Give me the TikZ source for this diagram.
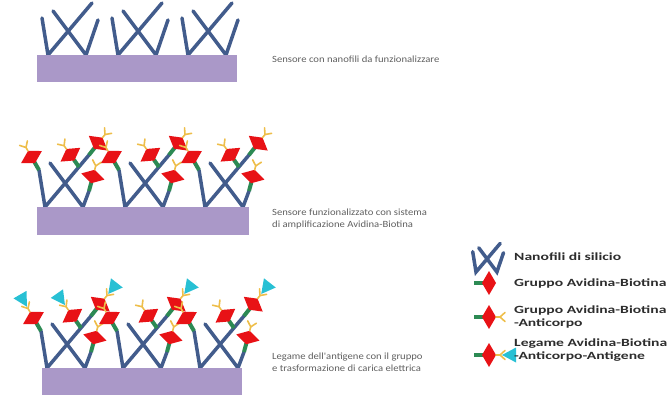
\documentclass[tikz,border=0pt]{standalone}
\usepackage{fontspec}
\newfontfamily\didafont{Carlito}[FakeStretch=1.12]
\newfontfamily\legfont{Carlito}[FakeStretch=1.42]
\definecolor{filoblu}{RGB}{66,92,140}
\definecolor{silicio}{RGB}{170,152,200}
\definecolor{avirosso}{RGB}{232,18,22}
\definecolor{bioverde}{RGB}{44,138,84}
\definecolor{acgiallo}{RGB}{238,190,74}
\definecolor{agciano}{RGB}{40,192,212}
\definecolor{testo}{RGB}{95,95,95}
\definecolor{legtesto}{RGB}{45,45,45}

\begin{document}
\begin{tikzpicture}[x=1pt, y=-1pt,
    filo/.style ={draw=filoblu, line width=3.5pt, line cap=round},
    substrato/.style ={fill=silicio},
    biotina/.style ={draw=bioverde, line width=4pt},
    avidina/.style ={fill=avirosso},
    anticorpo/.style ={draw=acgiallo, line width=1.6pt, line cap=round},
    antigene/.style ={fill=agciano},
    dida/.style ={anchor=west, align=left, inner sep=0pt, text=testo,
      font=\didafont\fontsize{9.5}{12}\selectfont},
    leg/.style ={anchor=west, align=left, inner sep=0pt, text=legtesto,
      font=\legfont\bfseries\fontsize{11}{13}\selectfont},
    pics/nanofili/.style ={code={
      \draw[filo] (-6,-37) -- (0,0) -- (44,-52);
      \draw[filo] (5,-44) -- (38,0) -- (50,-35);
    }},
    pics/avb/.style ={code={
      \draw[biotina] (0,0) -- (0,-9);
      \fill[avidina] (-12,-15) -- (0,-8) -- (12,-15) -- (0,-22) -- cycle;
    }},
    pics/avbac/.style ={code={
      \pic[transform shape] {avb};
      \draw[anticorpo] (0,-22) -- (0,-26) -- (-4.5,-31);
      \draw[anticorpo] (0,-26) -- (4.5,-31);
    }},
    pics/avbag/.style ={code={
      \pic[transform shape] {avbac};
      \fill[antigene] (0,-28) -- (-7.5,-42) -- (7.5,-42) -- cycle;
    }},
    pics/funz/.style n args={4}{code={
      \draw[filo] (-6,-37) -- (0,0) -- (44,-52);
      \draw[filo] (5,-44) -- (38,0) -- (44,-16);
      \pic[rotate=30] at (-6,-37) {#1};
      \pic[rotate=35] at (34,-40) {#2};
      \pic[rotate=-38] at (44,-52) {#3};
      \pic[rotate=-15] at (44,-16) {#4};
    }}]
   \useasboundingbox (0,0) rectangle (671,404);

   % sensore con nanofili
   \pic at (48,55) {nanofili};
   \pic at (118,55) {nanofili};
   \pic at (188,55) {nanofili};
   \fill[substrato] (37,55) rectangle (237,82);
   \node[dida] (t1) at (272,59) {Sensore con nanofili da funzionalizzare};

   % sensore funzionalizzato
   \pic at (45,207) {funz={avbac}{avbac}{avbac}{avbac}};
   \pic at (125,207) {funz={avbac}{avbac}{avbac}{avbac}};
   \pic at (205,207) {funz={avbac}{avbac}{avbac}{avbac}};
   \fill[substrato] (37,207) rectangle (249,235);
   \node[dida] (t2) at (272,219) {Sensore funzionalizzato con sistema\\di amplificazione Avidina-Biotina};

   % legame dell'antigene
   \pic at (47,368) {funz={avbag}{avbag}{avbag}{avbac}};
   \pic at (123,368) {funz={avbac}{avbac}{avbag}{avbac}};
   \pic at (200,368) {funz={avbac}{avbac}{avbag}{avbac}};
   \fill[substrato] (42,368) rectangle (242,395);
   \node[dida] (t3) at (272,362) {Legame dell'antigene con il gruppo\\e trasformazione di carica elettrica};

   % legenda
   \pic[scale=0.55] at (476,272) {nanofili};
   \pic[rotate=-90] at (474,283) {avb};
   \pic[rotate=-90] at (474,317) {avbac};
   \pic[rotate=-90] at (474,355) {avbag};
   \node[leg] (l1) at (514,257) {Nanofili di silicio};
   \node[leg] (l2) at (514,283) {Gruppo Avidina-Biotina};
   \node[leg] (l3) at (514,317) {Gruppo Avidina-Biotina\\-Anticorpo};
   \node[leg] (l4) at (514,350) {Legame Avidina-Biotina\\-Anticorpo-Antigene};
\end{tikzpicture}
\end{document}
